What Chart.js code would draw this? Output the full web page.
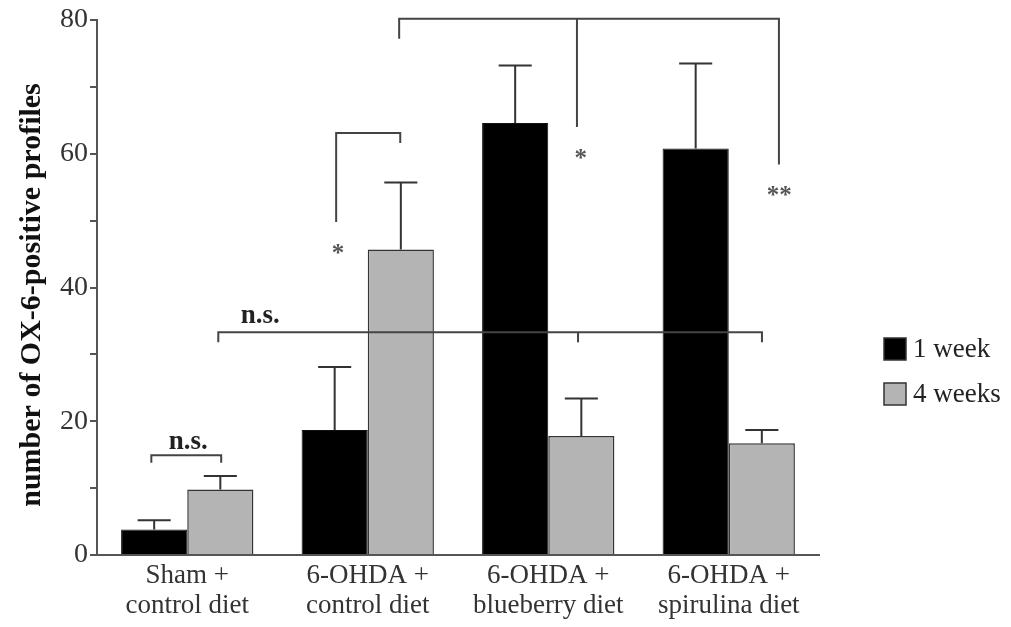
<!DOCTYPE html>
<html>
<head>
<meta charset="utf-8">
<script src="https://cdn.jsdelivr.net/npm/chart.js@4/dist/chart.umd.min.js"></script>
<style>
    html, body { margin: 0; padding: 0; background: #ffffff; }
    #wrap { width: 1011px; height: 627px; }
</style>
</head>
<body>
<div id="wrap"><canvas id="myChart"></canvas></div>
<script>
// data
const categories = [
    ["Sham +", "control diet"],
    ["6-OHDA +", "control diet"],
    ["6-OHDA +", "blueberry diet"],
    ["6-OHDA +", "spirulina diet"]
];
const seriesNames = ["1 week", "4 weeks"];
const week1 = [3.8, 18.7, 64.6, 60.8];
const week4 = [9.8, 45.7, 17.8, 16.7];
const week1Sem = [1.4, 9.4, 8.6, 12.7];
const week4Sem = [2.0, 10.0, 5.6, 2.0];
const yTicks = [0, 20, 40, 60, 80];

// significance brackets: x in category index units, y in data units
const brackets = [
    { pts: [[-0.199, 13.8], [-0.199, 14.9], [0.188, 14.9], [0.188, 13.8]] },
    { pts: [[0.172, 31.8], [0.172, 33.3], [3.184, 33.3], [3.184, 31.8]] },
    { pts: [[2.165, 33.3], [2.165, 31.8]] },
    { pts: [[0.825, 49.8], [0.825, 63.1], [1.18, 63.1], [1.18, 61.6]] },
    { pts: [[1.174, 77.2], [1.174, 80.2], [3.278, 80.2], [3.278, 58.4]] },
    { pts: [[2.159, 80.2], [2.159, 64.0]] }
];
const marks = [
    { text: "n.s.", x: 0.005, y: 16.9, bold: true },
    { text: "n.s.", x: 0.404, y: 35.8, bold: true },
    { text: "*", x: 0.835, y: 45.0, bold: false },
    { text: "*", x: 2.18, y: 59.2, bold: false },
    { text: "**", x: 3.28, y: 53.6, bold: false }
];

const serif = "'Liberation Serif', 'DejaVu Serif', serif";
const black = "#000000";
const gray = "#b4b4b4";

/* error bars, brackets and legend */
const extras = {
    id: "extras",
    afterDatasetsDraw(chart) {
        let ctx = chart.ctx;
        let xs = chart.scales.x;
        let ys = chart.scales.y;
        let sems = [week1Sem, week4Sem];
        let vals = [week1, week4];

        ctx.save();
        ctx.strokeStyle = "#333";
        ctx.lineWidth = 2;
        chart.data.datasets.forEach((ds, d) => {
            chart.getDatasetMeta(d).data.forEach((bar, i) => {
                let top = ys.getPixelForValue(vals[d][i] + sems[d][i]);
                let half = bar.width / 4;
                ctx.beginPath();
                ctx.moveTo(bar.x, bar.y);
                ctx.lineTo(bar.x, top);
                ctx.moveTo(bar.x - half, top);
                ctx.lineTo(bar.x + half, top);
                ctx.stroke();
            });
        });

        ctx.strokeStyle = "#444";
        brackets.forEach(b => {
            ctx.beginPath();
            b.pts.forEach((p, k) => {
                let px = xs.getPixelForValue(p[0]);
                let py = ys.getPixelForValue(p[1]);
                if (k === 0) ctx.moveTo(px, py); else ctx.lineTo(px, py);
            });
            ctx.stroke();
        });

        ctx.textAlign = "center";
        ctx.textBaseline = "middle";
        marks.forEach(m => {
            ctx.fillStyle = m.bold ? "#222" : "#555";
            ctx.font = (m.bold ? "bold 27px " : "bold 25px ") + serif;
            ctx.fillText(m.text, xs.getPixelForValue(m.x), ys.getPixelForValue(m.y));
        });

        // legend
        let lx = chart.chartArea.right + 65;
        let colors = [black, gray];
        ctx.textAlign = "left";
        ctx.font = "27px " + serif;
        seriesNames.forEach((name, k) => {
            let cy = 349 + k * 45;
            ctx.fillStyle = colors[k];
            ctx.fillRect(lx, cy - 11, 22, 22);
            ctx.strokeStyle = "#333";
            ctx.lineWidth = 1.5;
            ctx.strokeRect(lx, cy - 11, 22, 22);
            ctx.fillStyle = "#222";
            ctx.fillText(name, lx + 29, cy + 1);
        });
        ctx.restore();
    }
};

let ctx = document.getElementById("myChart").getContext("2d");

let chart = new Chart(ctx, {
    type: "bar",
    data: {
        labels: categories,
        datasets: [
            {
                label: seriesNames[0],
                data: week1,
                backgroundColor: black,
                borderColor: "#111",
                borderWidth: 1
            },
            {
                label: seriesNames[1],
                data: week4,
                backgroundColor: gray,
                borderColor: "#333",
                borderWidth: 1.5
            }
        ]
    },
    options: {
        responsive: true,
        maintainAspectRatio: false,
        animation: false,
        datasets: {
            bar: {
                categoryPercentage: 0.733,
                barPercentage: 1.0
            }
        },
        layout: {
            padding: { left: 0, right: 192, top: 20, bottom: 0 }
        },
        plugins: {
            legend: { display: false },
            tooltip: { enabled: false }
        },
        scales: {
            x: {
                grid: { display: false, drawTicks: false },
                border: { display: true, color: "#555", width: 2 },
                ticks: {
                    color: "#333",
                    padding: 6,
                    maxRotation: 0,
                    font: { family: serif, size: 27, lineHeight: 1.1 }
                },
                afterFit(scale) { scale.height = 72; }
            },
            y: {
                min: 0,
                max: 80,
                ticks: {
                    stepSize: 10,
                    padding: 2,
                    color: "#333",
                    font: { family: serif, size: 28 },
                    callback: v => yTicks.includes(v) ? v : ""
                },
                grid: {
                    drawOnChartArea: false,
                    drawTicks: true,
                    tickLength: 7,
                    color: "#555",
                    lineWidth: 2
                },
                border: { display: true, color: "#555", width: 2 },
                title: {
                    display: true,
                    // trailing spaces nudge the rotated title a little lower
                    text: "number of OX-6-positive profiles  ",
                    color: "#111",
                    padding: { top: 14, bottom: 0 },
                    font: { family: serif, size: 30, weight: "bold" }
                },
                afterFit(scale) { scale.width = 97; }
            }
        }
    },
    plugins: [extras]
});
</script>
</body>
</html>
